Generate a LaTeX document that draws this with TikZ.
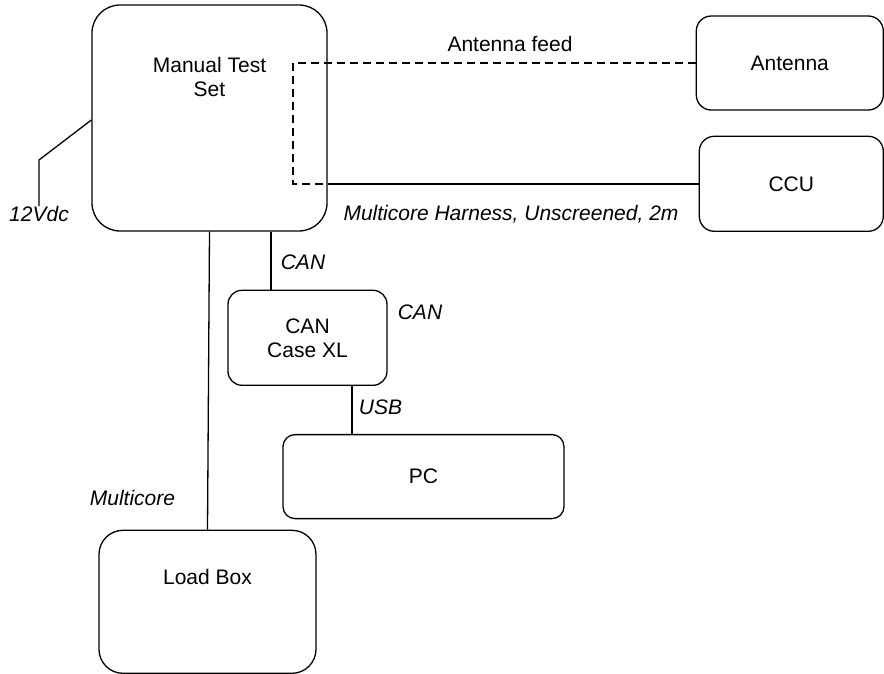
\documentclass[tikz,border=0pt]{standalone}
\usepackage{fontspec}
\setmainfont{Liberation Sans}
\usetikzlibrary{positioning}

\begin{document}
\begin{tikzpicture}[x=1pt, y=-1pt, line width=1.3pt]
  \tikzset{
    unit/.style={draw, rectangle, rounded corners=15pt, align=center, font=\fontsize{21}{24}\selectfont},
    boxtext/.style={align=center, inner sep=0pt, anchor=north, font=\fontsize{21}{24}\selectfont},
    tag/.style={anchor=base, inner sep=0pt, font=\fontsize{21}{24}\selectfont\itshape},
    feed/.style={dash pattern=on 8pt off 5pt}
  }
  \useasboundingbox (0,0) rectangle (884,674);

  \node[unit, rounded corners=28pt, minimum width=235pt, minimum height=226pt] (mts) at (209.5,118) {};
  \node[boxtext, below=52pt of mts.north] (mtsname) {Manual Test\\Set};
  \node[unit, minimum width=187pt, minimum height=94pt, below right=11pt and 368pt of mts.north east] (ant) {Antenna};
  \node[unit, minimum width=184pt, minimum height=95pt, below right=25pt and 3pt of ant.south west] (ccu) {CCU};
  \node[unit, rounded corners=14pt, minimum width=159pt, minimum height=95pt, below right=58pt and 136pt of mts.south west] (can) {CAN\\Case XL};
  \node[unit, rounded corners=12pt, minimum width=281pt, minimum height=84pt, below right=48pt and 55pt of can.south west] (pc) {PC};
  \node[unit, rounded corners=24pt, minimum width=217pt, minimum height=143pt, below right=298pt and 7pt of mts.south west] (load) {};
  \node[boxtext, below=39pt of load.north] (loadname) {Load Box};

  % cable labels
  \node[tag, font=\fontsize{21}{24}\selectfont] (feedtag) at (510,52) {Antenna feed};
  \node[tag] (harnesstag) at (511,220) {Multicore Harness, Unscreened, 2m};
  \node[tag] (v12) at (39,222) {12Vdc};
  \node[tag] (cantag) at (303,269) {CAN};
  \node[tag] (canbus) at (420,319) {CAN};
  \node[tag] (usbtag) at (380.5,414) {USB};
  \node[tag] (multitag) at (132.5,505) {Multicore};

  \coordinate (feedbend) at (293,184);
  \coordinate (vbend) at (39,160);

  \draw[feed] (ant.west) -| (feedbend) -- (feedbend -| mts.east);
  \draw (mts.east |- feedbend) -- (ccu.west |- feedbend);
  \draw ([yshift=-2pt]mts.west) -- (vbend) -- (v12.north);
  \draw ([xshift=-36.5pt]can.north) -- ([xshift=-36.5pt]can.north |- mts.south);
  \draw ([xshift=44.5pt]can.south) -- ([xshift=44.5pt]can.south |- pc.north);
  \draw (mts.south) -- (load.north);
\end{tikzpicture}
\end{document}
